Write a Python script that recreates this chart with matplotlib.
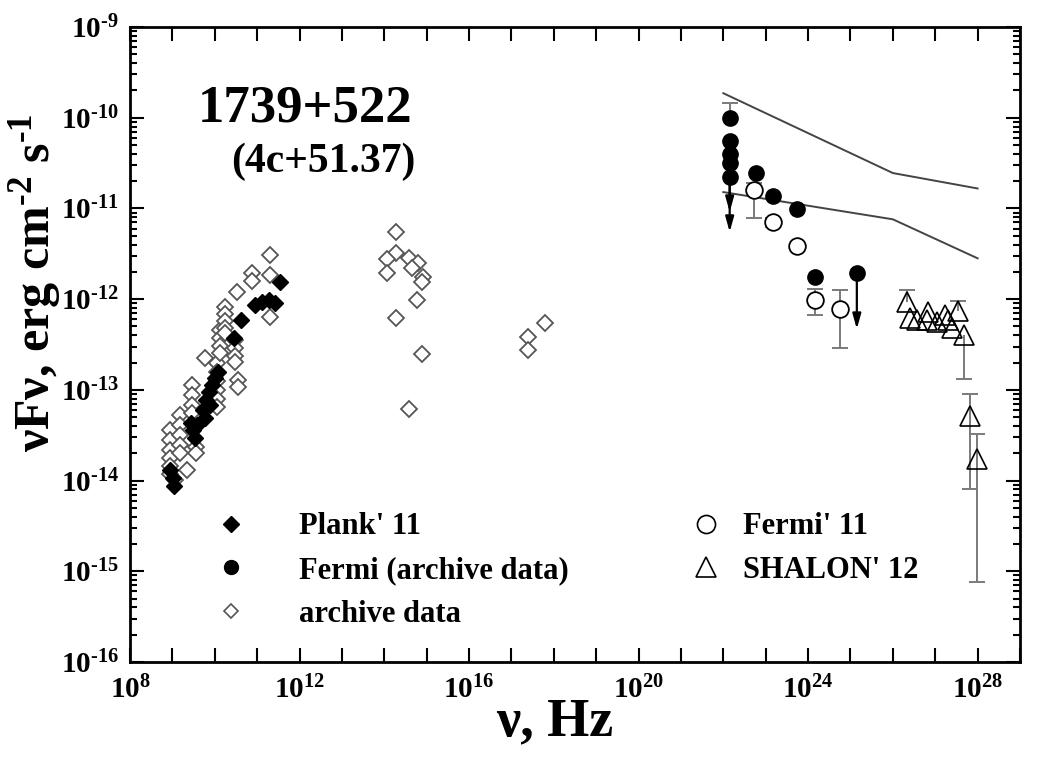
import numpy as np
import matplotlib
matplotlib.use('Agg')
import matplotlib.pyplot as plt
from matplotlib.lines import Line2D
from matplotlib.ticker import FixedLocator, LogLocator, FuncFormatter, NullLocator, NullFormatter

plt.rcParams['font.family'] = ['Liberation Serif', 'DejaVu Serif']
plt.rcParams['font.weight'] = 'bold'
plt.rcParams['mathtext.fontset'] = 'custom'
plt.rcParams['mathtext.rm'] = 'Liberation Serif:bold'
plt.rcParams['mathtext.it'] = 'Liberation Serif:italic:bold'
plt.rcParams['mathtext.bf'] = 'Liberation Serif:bold'

# all values are lg(nu / Hz) and lg(nuFnu / erg cm^-2 s^-1)

# Planck 2011
plank_lgnu = [8.94, 9.01, 9.04, 9.44, 9.49, 9.53, 9.58, 9.72, 9.79, 9.86, 9.93,
              10.00, 10.08, 9.89, 9.77, 10.45, 10.62, 10.95, 11.11, 11.28, 11.42, 11.54]
plank_lgf = [-13.88, -13.97, -14.06, -13.36, -13.44, -13.53, -13.39, -13.22, -13.11, -13.02, -12.95,
             -12.87, -12.80, -13.17, -13.31, -12.43, -12.23, -12.07, -12.03, -12.01, -12.04, -11.81]

# archive radio / optical / x-ray
arch_lgnu = [8.94, 8.94, 8.94, 8.94, 8.94, 8.94, 9.06,
             9.18, 9.18, 9.18, 9.18, 9.18,
             9.34,
             9.46, 9.46, 9.46, 9.46,
             9.56, 9.56,
             9.77,
             10.05, 10.05, 10.05, 10.05, 10.05, 10.05,
             10.12, 10.12, 10.12, 10.12,
             10.24, 10.24, 10.24, 10.24, 10.24,
             10.48, 10.48, 10.48, 10.48,
             10.55, 10.55,
             10.52,
             10.88, 10.88,
             11.30, 11.30, 11.30,
             14.27, 14.27, 14.06, 14.58, 14.79, 14.06, 14.65, 14.91, 14.89,
             14.77, 14.27, 14.89, 14.58,
             17.39, 17.79, 17.39]
arch_lgf = [-13.44, -13.55, -13.66, -13.75, -13.84, -13.93, -13.99,
            -13.28, -13.39, -13.50, -13.61, -13.70,
            -13.88,
            -12.95, -13.06, -13.17, -13.26,
            -13.63, -13.70,
            -12.65,
            -12.70, -12.80, -12.90, -13.00, -13.10, -13.19,
            -12.34, -12.43, -12.52, -12.59,
            -12.09, -12.16, -12.24, -12.32, -12.37,
            -12.45, -12.54, -12.63, -12.69,
            -12.89, -12.97,
            -11.92,
            -11.71, -11.80,
            -11.51, -11.73, -12.20,
            -11.26, -11.49, -11.56, -11.55, -11.60, -11.71, -11.66, -11.76, -11.81,
            -12.01, -12.21, -12.61, -13.21,
            -12.42, -12.26, -12.56]

# Fermi archive
fermi_lgnu = [22.15, 22.15, 22.15, 22.15, 22.15, 22.76, 23.17, 23.73, 24.16, 25.15]
fermi_lgf = [-10.00, -10.26, -10.40, -10.50, -10.65, -10.61, -10.86, -11.01, -11.76, -11.71]
fermi_err_lgnu = [22.15]
fermi_err_lgf = [-10.00]
fermi_err_lo = [-10.00]
fermi_err_hi = [-9.84]
# upper limits: start and end of the arrow
lim_lgnu = [22.15, 22.15, 25.15]
lim_from = [-10.65, -10.65, -11.71]
lim_to = [-11.04, -11.26, -12.33]

# Fermi 2011
fermi11_lgnu = [22.72, 23.17, 23.73, 24.16, 24.75]
fermi11_lgf = [-10.80, -11.15, -11.41, -12.01, -12.11]
fermi11_lo = [-11.11, -11.20, -11.41, -12.18, -12.54]
fermi11_hi = [-10.72, -11.10, -11.41, -11.89, -11.90]

# SHALON 2012
shalon_lgnu = [26.33, 26.40, 26.58, 26.82, 26.80, 27.03, 27.22, 27.29, 27.53, 27.39, 27.69, 27.83, 27.98]
shalon_lgf = [-12.03, -12.21, -12.23, -12.14, -12.23, -12.25, -12.18, -12.23, -12.13, -12.32, -12.40, -13.29, -13.76]
shalon_lo = [-12.03, -12.21, -12.23, -12.14, -12.23, -12.25, -12.18, -12.23, -12.13, -12.32, -12.88, -14.09, -15.12]
shalon_hi = [-11.90, -12.21, -12.23, -12.14, -12.23, -12.25, -12.18, -12.23, -12.02, -12.32, -12.40, -13.05, -13.49]

# model curves
upper_lgnu = [22.0, 26.0, 28.0]
upper_lgf = [-9.73, -10.61, -10.78]
lower_lgnu = [22.0, 26.0, 28.0]
lower_lgf = [-10.82, -11.12, -11.55]

GREY = '#7a7a7a'


def p10(v):
    return 10.0 ** np.asarray(v)


def exp_label(e):
    # hyphen instead of the typographic minus
    if e < 0:
        return r'$10^{\text{-}%d}$' % -e
    return r'$10^{%d}$' % e


def draw_errors(ax, lgnu, lgf, lo, hi):
    lgnu, lgf, lo, hi = map(np.asarray, (lgnu, lgf, lo, hi))
    ax.vlines(p10(lgnu), p10(lo), p10(hi), color=GREY, lw=1.4, zorder=2)
    down = lo < lgf
    up = hi > lgf
    ax.plot(p10(lgnu[down]), p10(lo[down]), ls='none', marker='_', ms=11, mew=1.4, color=GREY, zorder=2)
    ax.plot(p10(lgnu[up]), p10(hi[up]), ls='none', marker='_', ms=11, mew=1.4, color=GREY, zorder=2)


fig = plt.figure(figsize=(10.54, 7.63), dpi=100)
ax = fig.add_axes([130 / 1054, 101 / 763, 890 / 1054, 635 / 763])
ax.set_xscale('log')
ax.set_yscale('log')
ax.set_xlim(1e8, 1e29)
ax.set_ylim(1e-16, 1e-9)

ax.plot(p10(upper_lgnu), p10(upper_lgf), color='#444444', lw=1.4, zorder=1)
ax.plot(p10(lower_lgnu), p10(lower_lgf), color='#444444', lw=1.4, zorder=1)

ax.plot(p10(arch_lgnu), p10(arch_lgf), ls='none', marker='D', ms=8, mfc='white', mec='#555555', mew=1.3, zorder=3)
ax.plot(p10(plank_lgnu), p10(plank_lgf), ls='none', marker='D', ms=8, mfc='black', mec='black', zorder=4)

draw_errors(ax, fermi_err_lgnu, fermi_err_lgf, fermi_err_lo, fermi_err_hi)
for nu, f0, f1 in zip(lim_lgnu, lim_from, lim_to):
    ax.annotate('', xy=(10 ** nu, 10 ** f1), xytext=(10 ** nu, 10 ** f0),
                arrowprops=dict(arrowstyle='-|>,head_length=0.9,head_width=0.25', color='black', lw=1.6,
                                shrinkA=0, shrinkB=0), zorder=3)
ax.plot(p10(fermi_lgnu), p10(fermi_lgf), ls='none', marker='o', ms=11, mfc='black', mec='black', zorder=4)

draw_errors(ax, fermi11_lgnu, fermi11_lgf, fermi11_lo, fermi11_hi)
ax.plot(p10(fermi11_lgnu), p10(fermi11_lgf), ls='none', marker='o', ms=12, mfc='white', mec='black', mew=1.3, zorder=4)

draw_errors(ax, shalon_lgnu, shalon_lgf, shalon_lo, shalon_hi)
ax.plot(p10(shalon_lgnu), p10(shalon_lgf), ls='none', marker='^', ms=14, mfc='none', mec='black', mew=1.2, zorder=4)

# axes and ticks
ax.xaxis.set_major_locator(FixedLocator(p10(np.arange(8, 30))))
ax.xaxis.set_minor_locator(NullLocator())
ax.xaxis.set_major_formatter(FuncFormatter(
    lambda v, pos: exp_label(round(np.log10(v))) if round(np.log10(v)) % 4 == 0 else ''))
ax.yaxis.set_major_locator(LogLocator(base=10, numticks=20))
ax.yaxis.set_minor_locator(LogLocator(base=10, subs=np.arange(2, 10), numticks=20))
ax.yaxis.set_major_formatter(FuncFormatter(lambda v, pos: exp_label(round(np.log10(v)))))
ax.yaxis.set_minor_formatter(NullFormatter())
ax.tick_params(which='both', direction='in', top=True, right=True, width=1.5, labelsize=21)
ax.tick_params(which='major', length=10)
ax.tick_params(which='minor', length=5)
ax.tick_params(axis='x', pad=10)
ax.tick_params(axis='y', pad=8)
for s in ax.spines.values():
    s.set_linewidth(2)

fig.text(35 / 1054, 1 - 283 / 763, r'νFν, erg cm$^{\text{-2}}$ s$^{\text{-1}}$', rotation=90,
         ha='center', va='center', fontsize=36)
fig.text(555 / 1054, 1 - 722 / 763, 'ν, Hz', ha='center', va='center', fontsize=39)

fig.text(305 / 1054, 1 - 108 / 763, '1739+522', ha='center', va='center', fontsize=38)
fig.text(323 / 1054, 1 - 162 / 763, '(4c+51.37)', ha='center', va='center', fontsize=30)

# legend, two columns placed separately
left_handles = [
    Line2D([], [], ls='none', marker='D', ms=8, mfc='black', mec='black'),
    Line2D([], [], ls='none', marker='o', ms=10, mfc='black', mec='black'),
    Line2D([], [], ls='none', marker='D', ms=7, mfc='white', mec='#555555', mew=1.2),
]
left_labels = ["Plank' 11", 'Fermi (archive data)', 'archive data']
right_handles = [
    Line2D([], [], ls='none', marker='o', ms=13, mfc='white', mec='black', mew=1.2),
    Line2D([], [], ls='none', marker='^', ms=15, mfc='white', mec='black', mew=1.2),
]
right_labels = ["Fermi' 11", "SHALON' 12"]
leg_kw = dict(frameon=False, fontsize=22, loc='upper left', bbox_transform=fig.transFigure,
              borderpad=0, handlelength=1.0, labelspacing=0.48)
leg1 = ax.legend(left_handles, left_labels, bbox_to_anchor=(200 / 1054, 1 - 497 / 763),
                 handletextpad=1.75, **leg_kw)
ax.add_artist(leg1)
ax.legend(right_handles, right_labels, bbox_to_anchor=(675 / 1054, 1 - 497 / 763),
          handletextpad=0.72, **leg_kw)

fig.savefig('out.png', dpi=100)
